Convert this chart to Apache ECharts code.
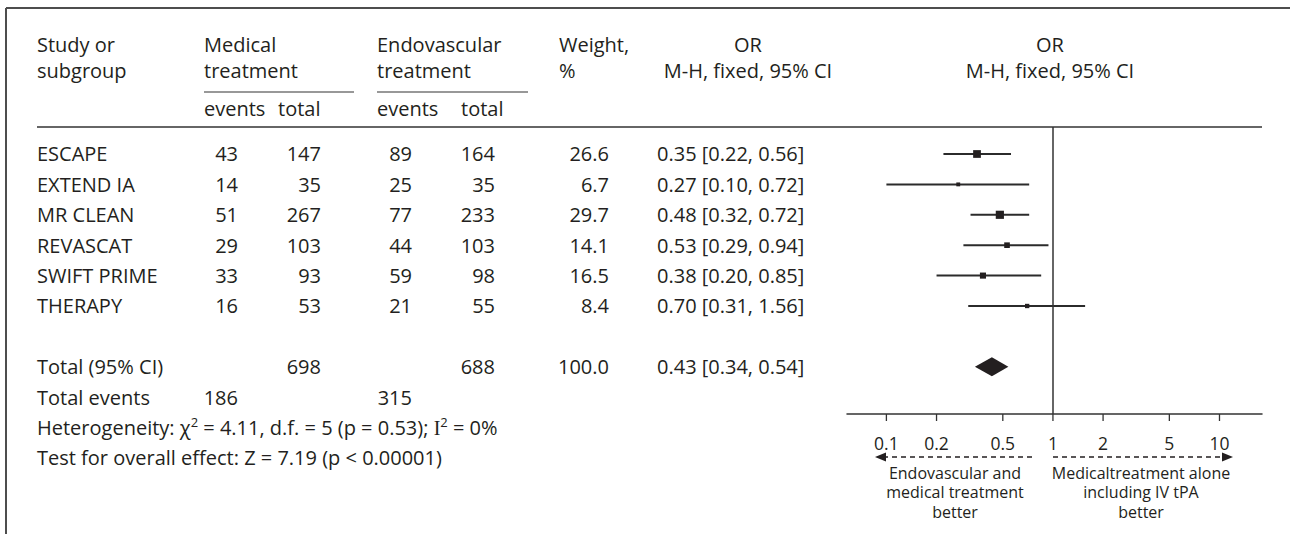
<!DOCTYPE html>
<html>
<head>
<meta charset="utf-8">
<title>Forest plot – endovascular vs medical treatment</title>
<script src="https://cdn.jsdelivr.net/npm/echarts@6/dist/echarts.min.js"></script>
<style>
  html, body { margin: 0; padding: 0; background: #ffffff; }
  #chart { width: 1290px; height: 534px; }
</style>
</head>
<body>
<div id="chart"></div>
<script>
// ---- study data ----
const studies    = ['ESCAPE', 'EXTEND IA', 'MR CLEAN', 'REVASCAT', 'SWIFT PRIME', 'THERAPY'];
const medEvents  = [43, 14, 51, 29, 33, 16];
const medTotal   = [147, 35, 267, 103, 93, 53];
const endoEvents = [89, 25, 77, 44, 59, 21];
const endoTotal  = [164, 35, 233, 103, 98, 55];
const weights    = [26.6, 6.7, 29.7, 14.1, 16.5, 8.4];
const oddsRatio  = [0.35, 0.27, 0.48, 0.53, 0.38, 0.70];
const ciLow      = [0.22, 0.10, 0.32, 0.29, 0.20, 0.31];
const ciHigh     = [0.56, 0.72, 0.72, 0.94, 0.85, 1.56];

// ---- pooled (fixed-effect) result ----
const pooledOR     = [0.43, 0.34, 0.54];   // estimate, lower, upper
const pooledWeight = 100.0;
const pooledTotals = [698, 688];           // medical, endovascular
const pooledEvents = [186, 315];           // medical, endovascular

// ---- axis ticks ----
const tickValues = [0.1, 0.2, 0.5, 1, 2, 5, 10];
const tickLabels = ['0.1', '0.2', '0.5', '1', '2', '5', '10'];

// ---- layout ----
const INK = '#231f20';
const FONT = '"Open Sans", "Noto Sans", sans-serif';
const FS = 20;
const COL = { study: 37, medEv: 238, medTot: 321, endoEv: 412, endoTot: 495, weight: 609, or: 657 };
const ROW_TOTAL = 7, ROW_EVENTS = 8, ROW_HET = 9, ROW_TEST = 10;

const fmt2 = v => v.toFixed(2);
const orText = (o, l, h) => `${fmt2(o)} [${fmt2(l)}, ${fmt2(h)}]`;

function txt(x, y, text, align, extra) {
  return {
    type: 'text', x: x, y: y, silent: true,
    style: Object.assign({
      text: text, fill: INK, fontSize: FS, fontFamily: FONT,
      align: align || 'left', verticalAlign: 'middle'
    }, extra || {})
  };
}

const chart = echarts.init(document.getElementById('chart'), null, { renderer: 'svg' });

const option = {
  animation: false,
  backgroundColor: '#ffffff',
  grid: { left: 847, right: 28, top: 127, bottom: 120, containLabel: false },
  xAxis: {
    type: 'log', logBase: 10, min: 0.058, max: 18,
    axisLine: { show: true, onZero: false, lineStyle: { color: '#333333', width: 1.5 } },
    axisTick: { show: false }, axisLabel: { show: false }, splitLine: { show: false }
  },
  yAxis: {
    type: 'value', inverse: true, min: -0.888, max: 8.553, show: false
  },
  graphic: [
    // frame
    { type: 'line', silent: true, shape: { x1: 6, y1: 8, x2: 1290, y2: 8 }, style: { stroke: '#4d4d4d', lineWidth: 2 } },
    { type: 'line', silent: true, shape: { x1: 6, y1: 8, x2: 6, y2: 534 }, style: { stroke: '#4d4d4d', lineWidth: 2 } },
    // header rules
    { type: 'line', silent: true, shape: { x1: 204, y1: 92, x2: 354, y2: 92 }, style: { stroke: '#333333', lineWidth: 1.2 } },
    { type: 'line', silent: true, shape: { x1: 377, y1: 92, x2: 528, y2: 92 }, style: { stroke: '#333333', lineWidth: 1.2 } },
    { type: 'line', silent: true, shape: { x1: 37, y1: 127, x2: 1262, y2: 127 }, style: { stroke: '#333333', lineWidth: 1.5 } },
    // header text
    txt(37, 44, 'Study or'), txt(37, 70, 'subgroup'),
    txt(204, 44, 'Medical'), txt(204, 70, 'treatment'),
    txt(377, 44, 'Endovascular'), txt(377, 70, 'treatment'),
    txt(204, 108, 'events'), txt(278, 108, 'total'),
    txt(377, 108, 'events'), txt(461, 108, 'total'),
    txt(559, 44, 'Weight,'), txt(559, 70, '%'),
    txt(748, 44, 'OR', 'center'), txt(748, 70, 'M-H, fixed, 95% CI', 'center'),
    txt(1050, 44, 'OR', 'center'), txt(1050, 70, 'M-H, fixed, 95% CI', 'center'),
    // direction arrows
    { type: 'line', silent: true, shape: { x1: 1032, y1: 457, x2: 884, y2: 457 }, style: { stroke: '#231f20', lineWidth: 1.3, lineDash: [5, 4] } },
    { type: 'polygon', silent: true, shape: { points: [[875, 457], [886, 452.5], [886, 461.5]] }, style: { fill: '#231f20' } },
    { type: 'line', silent: true, shape: { x1: 1053, y1: 457, x2: 1224, y2: 457 }, style: { stroke: '#231f20', lineWidth: 1.3, lineDash: [5, 4] } },
    { type: 'polygon', silent: true, shape: { points: [[1233, 457], [1222, 452.5], [1222, 461.5]] }, style: { fill: '#231f20' } },
    // direction labels
    { type: 'text', silent: true, x: 955, y: 463, style: { text: 'Endovascular and\nmedical treatment\nbetter', fill: INK, fontSize: 16, fontFamily: FONT, align: 'center', verticalAlign: 'top', lineHeight: 19.5 } },
    { type: 'text', silent: true, x: 1141, y: 463, style: { text: 'Medicaltreatment alone\nincluding IV tPA\nbetter', fill: INK, fontSize: 16, fontFamily: FONT, align: 'center', verticalAlign: 'top', lineHeight: 19.5 } }
  ],
  series: [
    // study rows of the table
    {
      type: 'custom', name: 'table', silent: true, clip: false,
      data: studies.map((s, i) => [1, i]),
      encode: { x: 0, y: 1 },
      renderItem: function (params, api) {
        const i = params.dataIndex;
        const y = api.coord([1, api.value(1)])[1];
        return {
          type: 'group', children: [
            txt(COL.study, y, studies[i]),
            txt(COL.medEv, y, String(medEvents[i]), 'right'),
            txt(COL.medTot, y, String(medTotal[i]), 'right'),
            txt(COL.endoEv, y, String(endoEvents[i]), 'right'),
            txt(COL.endoTot, y, String(endoTotal[i]), 'right'),
            txt(COL.weight, y, weights[i].toFixed(1), 'right'),
            txt(COL.or, y, orText(oddsRatio[i], ciLow[i], ciHigh[i]))
          ]
        };
      }
    },
    // summary rows below the studies
    {
      type: 'custom', name: 'summary', silent: true, clip: false,
      data: [[1, ROW_TOTAL], [1, ROW_EVENTS], [1, ROW_HET], [1, ROW_TEST]],
      encode: { x: 0, y: 1 },
      renderItem: function (params, api) {
        const row = api.value(1);
        const y = api.coord([1, row])[1];
        let children;
        if (row === ROW_TOTAL) {
          children = [
            txt(COL.study, y, 'Total (95% CI)'),
            txt(COL.medTot, y, String(pooledTotals[0]), 'right'),
            txt(COL.endoTot, y, String(pooledTotals[1]), 'right'),
            txt(COL.weight, y, pooledWeight.toFixed(1), 'right'),
            txt(COL.or, y, orText(pooledOR[0], pooledOR[1], pooledOR[2]))
          ];
        } else if (row === ROW_EVENTS) {
          children = [
            txt(COL.study, y, 'Total events'),
            txt(COL.medEv, y, String(pooledEvents[0]), 'right'),
            txt(COL.endoEv, y, String(pooledEvents[1]), 'right')
          ];
        } else if (row === ROW_HET) {
          children = [txt(COL.study, y,
            'Heterogeneity: χ{sup|2} = 4.11, d.f. = 5 (p = 0.53); {ser|I}{sup|2} = 0%', 'left', {
              lineHeight: 24,
              rich: {
                sup: { fontSize: 13, fontFamily: FONT, fill: INK, verticalAlign: 'top', lineHeight: 13 },
                ser: { fontSize: 20, fontFamily: '"Liberation Serif", serif', fill: INK, lineHeight: 24 }
              }
            })];
        } else {
          children = [txt(COL.study, y, 'Test for overall effect: Z = 7.19 (p < 0.00001)')];
        }
        return { type: 'group', children: children };
      }
    },
    // study estimates with confidence intervals
    {
      type: 'custom', name: 'studies',
      data: studies.map((s, i) => [oddsRatio[i], i, ciLow[i], ciHigh[i], weights[i]]),
      encode: { x: 0, y: 1 },
      renderItem: function (params, api) {
        const row = api.value(1);
        const p = api.coord([api.value(0), row]);
        const lo = api.coord([api.value(2), row]);
        const hi = api.coord([api.value(3), row]);
        const s = 1.5 * Math.sqrt(api.value(4));
        return {
          type: 'group', children: [
            { type: 'line', shape: { x1: lo[0], y1: lo[1], x2: hi[0], y2: hi[1] }, style: { stroke: '#2b2b2b', lineWidth: 2 } },
            { type: 'rect', shape: { x: p[0] - s / 2, y: p[1] - s / 2, width: s, height: s }, style: { fill: INK } }
          ]
        };
      },
      markLine: {
        silent: true, symbol: 'none', animation: false,
        label: { show: false },
        lineStyle: { color: '#333333', width: 1.5, type: 'solid' },
        data: [{ xAxis: 1 }]
      }
    },
    // pooled diamond
    {
      type: 'custom', name: 'pooled',
      data: [[pooledOR[0], ROW_TOTAL, pooledOR[1], pooledOR[2]]],
      encode: { x: 0, y: 1 },
      renderItem: function (params, api) {
        const row = api.value(1);
        const c = api.coord([api.value(0), row]);
        const l = api.coord([api.value(2), row]);
        const h = api.coord([api.value(3), row]);
        const hh = 9.5;
        return {
          type: 'polygon',
          shape: { points: [[l[0], c[1]], [c[0], c[1] - hh], [h[0], c[1]], [c[0], c[1] + hh]] },
          style: { fill: INK }
        };
      }
    },
    // axis ticks and labels
    {
      type: 'custom', name: 'ticks', silent: true, clip: false,
      data: tickValues.map(v => [v, 0]),
      encode: { x: 0, y: 1 },
      renderItem: function (params, api) {
        const x = api.coord([api.value(0), 0])[0];
        const bottom = params.coordSys.y + params.coordSys.height;
        return {
          type: 'group', children: [
            { type: 'line', shape: { x1: x, y1: bottom, x2: x, y2: bottom + 7 }, style: { stroke: '#333333', lineWidth: 1.3 } },
            txt(x, bottom + 29, tickLabels[params.dataIndex], 'center', { fontSize: 17.5 })
          ]
        };
      }
    }
  ]
};

chart.setOption(option);
</script>
</body>
</html>
